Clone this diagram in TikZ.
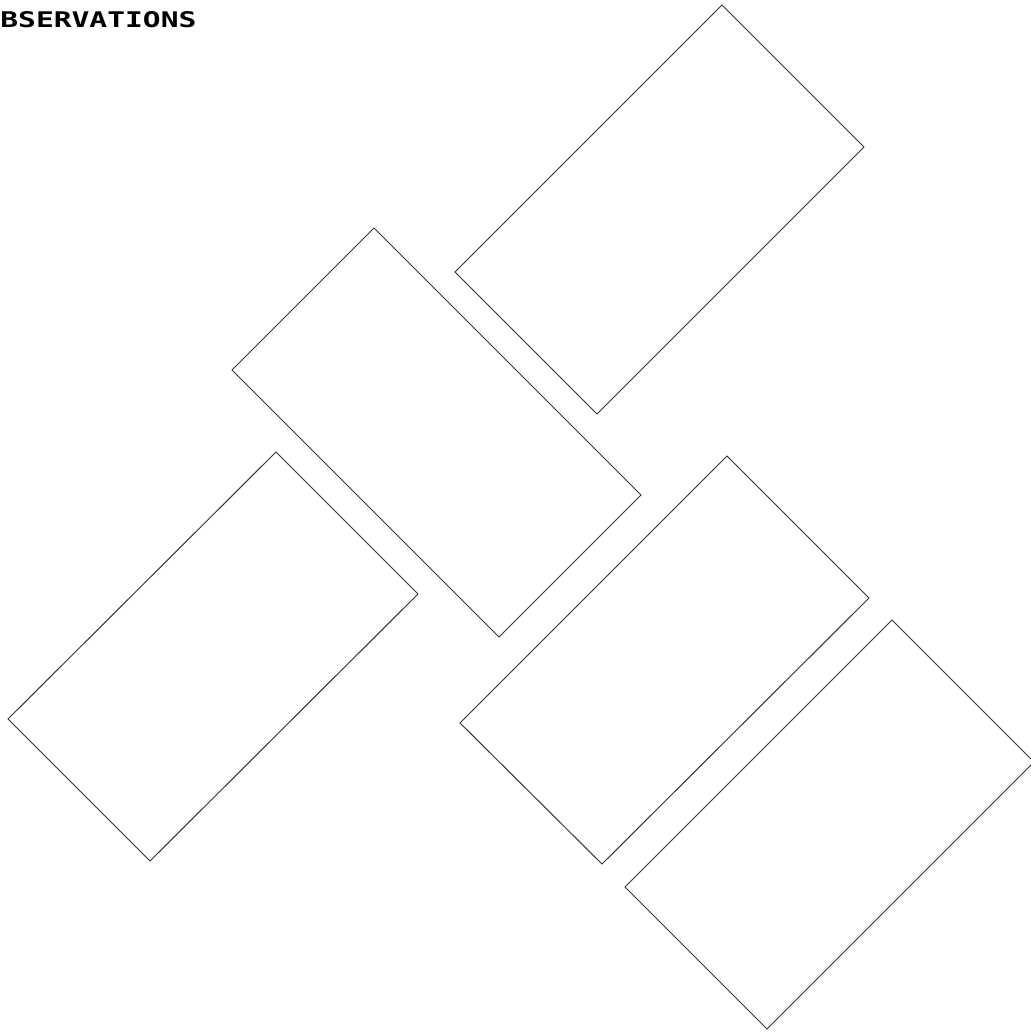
\documentclass[tikz,border=0pt]{standalone}
\usepackage{fontspec}
\newfontfamily\labelfont{DejaVu Sans Mono}
\begin{document}
\begin{tikzpicture}[x=0.5pt,y=-0.5pt,
  card/.style={draw=black!80,line width=0.5pt,line join=miter}]
\useasboundingbox (0,0) rectangle (1030,1032);
\node[anchor=south west,inner sep=0pt] (title) at (0,28)
  {\resizebox{98pt}{8pt}{\labelfont\bfseries BSERVATIONS}};
% card A (top right)
\coordinate (a1) at (722,5);   \coordinate (a2) at (864,147);
\coordinate (a3) at (597,414); \coordinate (a4) at (455,272);
\draw[card] (a1) -- (a2) -- (a3) -- (a4) -- cycle;
% card B (middle)
\coordinate (b1) at (374,228); \coordinate (b2) at (641,495);
\coordinate (b3) at (499,637); \coordinate (b4) at (232,370);
\draw[card] (b1) -- (b2) -- (b3) -- (b4) -- cycle;
% card C (bottom left)
\coordinate (c1) at (276,452); \coordinate (c2) at (418,594);
\coordinate (c3) at (150,861); \coordinate (c4) at (8,719);
\draw[card] (c1) -- (c2) -- (c3) -- (c4) -- cycle;
% card D (bottom middle)
\coordinate (d1) at (727,456); \coordinate (d2) at (869,598);
\coordinate (d3) at (602,864); \coordinate (d4) at (460,723);
\draw[card] (d1) -- (d2) -- (d3) -- (d4) -- cycle;
% card E (bottom right)
\coordinate (e1) at (892,620); \coordinate (e2) at (1034,762);
\coordinate (e3) at (767,1029); \coordinate (e4) at (625,887);
\draw[card] (e1) -- (e2) -- (e3) -- (e4) -- cycle;
\end{tikzpicture}
\end{document}
